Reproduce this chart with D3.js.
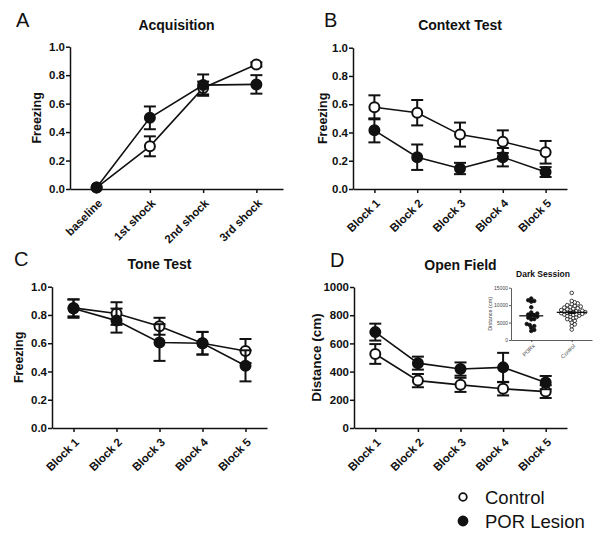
<!DOCTYPE html>
<html><head><meta charset="utf-8">
<script src="https://cdn.jsdelivr.net/npm/d3@7"></script>
<style>body{margin:0;background:#fff}svg{display:block;font-family:"Liberation Sans",Arial,sans-serif}</style>
</head><body><svg id="c" width="604" height="541"></svg>
<script>
// ---------- data ----------
const acqCategories = ["baseline","1st shock","2nd shock","3rd shock"];
const blockCategories = ["Block 1","Block 2","Block 3","Block 4","Block 5"];
const freezeTicks = [0,0.2,0.4,0.6,0.8,1.0];
const distTicks = [0,200,400,600,800,1000];

const acqControl = [0.01,0.30,0.71,0.875];
const acqControlErr = [0,0.07,0.045,0.015];
const acqLesion = [0.01,0.50,0.73,0.735];
const acqLesionErr = [0,0.08,0.075,0.065];

const ctxControl = [0.578,0.54,0.385,0.335,0.26];
const ctxControlErr = [0.085,0.09,0.085,0.08,0.08];
const ctxLesion = [0.415,0.225,0.145,0.225,0.12];
const ctxLesionErr = [0.085,0.09,0.04,0.065,0.035];

const toneControl = [0.85,0.81,0.72,0.60,0.545];
const toneControlErr = [0.06,0.08,0.06,0.08,0.085];
const toneLesion = [0.845,0.76,0.605,0.60,0.44];
const toneLesionErr = [0.065,0.085,0.13,0.08,0.11];

const ofControl = [525,336,306,278,258];
const ofControlErr = [70,47,50,47,45];
const ofLesion = [680,460,418,430,322];
const ofLesionErr = [60,46,47,103,47];

const insetCategories = ["PORx","Control"];
const insetTicks = [0,5000,10000,15000];
const darkPORx = [11900,11400,11200,11000,9400,7900,7600,7300,7100,7000,6700,6400,6000,5900,4600,4300,4000,3500,2900,2600];
const darkControl = [13500,11200,10800,10500,10300,10000,9800,9600,9500,9300,9100,9000,8800,8600,8500,8400,8300,8200,8100,8000,7900,7800,7700,7600,7500,7400,7300,7200,7000,6900,6700,6500,6300,6000,5800,5500,5000,4500,4000,3000];

// ---------- drawing ----------
const svg = d3.select("#c");
const INK = "#111";

function panel(o){
  const g = svg.append("g");
  const x = d3.scalePoint().domain(o.cats).range([o.x0,o.x1]).padding(0.5);
  const y = d3.scaleLinear().domain([o.ticks[0],o.ticks[o.ticks.length-1]]).range([o.y0,o.y1]);
  const ya = g.append("g").attr("transform",`translate(${o.x0},0)`)
    .call(d3.axisLeft(y).tickValues(o.ticks).tickSize(4).tickSizeOuter(0).tickFormat(o.fmt));
  ya.select(".domain").attr("stroke",INK).attr("stroke-width",1.5);
  ya.selectAll(".tick line").attr("stroke",INK).attr("stroke-width",1.5);
  ya.selectAll("text").attr("font-size",11.5).attr("font-weight","bold").attr("fill",INK).attr("x",-5);
  const xa = g.append("g").attr("transform",`translate(0,${o.y0})`)
    .call(d3.axisBottom(x).tickSize(4).tickSizeOuter(0));
  xa.select(".domain").attr("stroke",INK).attr("stroke-width",1.5);
  xa.selectAll(".tick line").attr("stroke",INK).attr("stroke-width",1.5);
  xa.selectAll("text").attr("font-size",11.5).attr("font-weight","bold").attr("fill",INK)
    .attr("text-anchor","end").attr("y",0).attr("dy","0.35em")
    .attr("transform","translate(3,12) rotate(-45)");
  g.append("text").attr("x",(o.x0+o.x1)/2).attr("y",o.titleY).attr("text-anchor","middle")
    .attr("font-size",14).attr("font-weight","bold").attr("fill",INK).text(o.title);
  g.append("text").attr("x",o.letterX).attr("y",o.titleY-3).attr("font-size",20).attr("fill",INK).text(o.letter);
  g.append("text").attr("transform",`translate(${o.ylabX},${(o.y0+o.y1)/2}) rotate(-90)`)
    .attr("text-anchor","middle").attr("font-size",o.ylabSize).attr("font-weight","bold").attr("fill",INK).text(o.ylab);
  const series = [
    {v:o.control, e:o.controlErr, fill:"#fff"},
    {v:o.lesion, e:o.lesionErr, fill:INK}
  ];
  const line = d3.line().x((d,i)=>x(o.cats[i])).y(d=>y(d));
  series.forEach(s=>{
    g.append("path").attr("d",line(s.v)).attr("fill","none").attr("stroke",INK).attr("stroke-width",1.6);
  });
  series.forEach(s=>{
    const eg = g.append("g");
    s.v.forEach((v,i)=>{
      if(!s.e[i]) return;
      const cx = x(o.cats[i]);
      const t = y(v+s.e[i]), b = y(v-s.e[i]);
      eg.append("line").attr("x1",cx).attr("x2",cx).attr("y1",t).attr("y2",b).attr("stroke",INK).attr("stroke-width",2);
      [t,b].forEach(yy=>eg.append("line").attr("x1",cx-6).attr("x2",cx+6).attr("y1",yy).attr("y2",yy).attr("stroke",INK).attr("stroke-width",2));
    });
    g.selectAll(null).data(s.v).enter().append("circle")
      .attr("cx",(d,i)=>x(o.cats[i])).attr("cy",d=>y(d)).attr("r",5)
      .attr("fill",s.fill).attr("stroke",INK).attr("stroke-width",2);
  });
}

panel({cats:acqCategories,ticks:freezeTicks,fmt:d3.format(".1f"),x0:70,x1:283,y0:189,y1:46.7,
  title:"Acquisition",titleY:30,letter:"A",letterX:16,ylab:"Freezing",ylabX:41,ylabSize:12.5,
  control:acqControl,controlErr:acqControlErr,lesion:acqLesion,lesionErr:acqLesionErr});
panel({cats:blockCategories,ticks:freezeTicks,fmt:d3.format(".1f"),x0:353,x1:567,y0:189,y1:47.7,
  title:"Context Test",titleY:30,letter:"B",letterX:324,ylab:"Freezing",ylabX:327,ylabSize:12.5,
  control:ctxControl,controlErr:ctxControlErr,lesion:ctxLesion,lesionErr:ctxLesionErr});
panel({cats:blockCategories,ticks:freezeTicks,fmt:d3.format(".1f"),x0:52,x1:267,y0:428,y1:286.7,
  title:"Tone Test",titleY:269,letter:"C",letterX:14,ylab:"Freezing",ylabX:23,ylabSize:12.5,
  control:toneControl,controlErr:toneControlErr,lesion:toneLesion,lesionErr:toneLesionErr});
panel({cats:blockCategories,ticks:distTicks,fmt:d3.format("d"),x0:354,x1:567,y0:428,y1:287,
  title:"Open Field",titleY:270,letter:"D",letterX:330,ylab:"Distance (cm)",ylabX:321,ylabSize:13.5,
  control:ofControl,controlErr:ofControlErr,lesion:ofLesion,lesionErr:ofLesionErr});

// ---------- inset ----------
(function(){
  const g = svg.append("g");
  const x0=511,x1=592,y0=340,y1=287.7;
  const x = d3.scalePoint().domain(insetCategories).range([x0,x1]).padding(0.5);
  const y = d3.scaleLinear().domain([0,15000]).range([y0,y1]);
  const ya = g.append("g").attr("transform",`translate(${x0},0)`)
    .call(d3.axisLeft(y).tickValues(insetTicks).tickSize(2).tickSizeOuter(0).tickFormat(d3.format("d")));
  ya.select(".domain").attr("stroke","#333").attr("stroke-width",0.8);
  ya.selectAll(".tick line").attr("stroke","#333").attr("stroke-width",0.8);
  ya.selectAll("text").attr("font-size",5).attr("fill","#444").attr("x",-3);
  const xa = g.append("g").attr("transform",`translate(0,${y0})`)
    .call(d3.axisBottom(x).tickSize(2).tickSizeOuter(0));
  xa.select(".domain").attr("stroke","#333").attr("stroke-width",0.8);
  xa.selectAll(".tick line").attr("stroke","#333").attr("stroke-width",0.8);
  xa.selectAll("text").attr("font-size",5.5).attr("fill","#444").attr("text-anchor","end")
    .attr("y",0).attr("dy","0.35em").attr("transform","translate(2,5) rotate(-45)");
  g.append("text").attr("x",543).attr("y",277).attr("text-anchor","middle").attr("font-size",8.5)
    .attr("font-weight","bold").attr("fill",INK).text("Dark Session");
  g.append("text").attr("transform",`translate(492,${(y0+y1)/2}) rotate(-90)`).attr("text-anchor","middle")
    .attr("font-size",5.5).attr("fill","#444").text("Distance (cm)");
  const groups = [{c:"PORx",v:darkPORx,fill:INK,hw:12},{c:"Control",v:darkControl,fill:"#fff",hw:15}];
  const r = 1.8;
  groups.forEach(gr=>{
    const cx = x(gr.c);
    const placed = [];
    const sorted = gr.v.slice().sort((a,b)=>a-b);
    sorted.forEach(v=>{
      const py = y(v);
      let off = 0;
      for(let k=0;k<40;k++){
        const cand = k===0?0:(k%2?1:-1)*Math.ceil(k/2)*1.5;
        const ok = placed.every(p=>Math.hypot(p.dx-cand,p.py-py) >= 2*r-0.7);
        if(ok){off=cand;break;}
      }
      placed.push({dx:off,py:py});
    });
    const m = d3.mean(gr.v), sem = d3.deviation(gr.v)/Math.sqrt(gr.v.length);
    g.selectAll(null).data(placed).enter().append("circle")
      .attr("cx",d=>cx+d.dx).attr("cy",d=>d.py).attr("r",r)
      .attr("fill",gr.fill).attr("stroke",INK).attr("stroke-width",0.8);
    g.append("line").attr("x1",cx-gr.hw).attr("x2",cx+gr.hw).attr("y1",y(m)).attr("y2",y(m)).attr("stroke",INK).attr("stroke-width",1.3);
    g.append("line").attr("x1",cx).attr("x2",cx).attr("y1",y(m+sem)).attr("y2",y(m-sem)).attr("stroke",INK).attr("stroke-width",1);
    [m+sem,m-sem].forEach(v=>g.append("line").attr("x1",cx-4).attr("x2",cx+4).attr("y1",y(v)).attr("y2",y(v)).attr("stroke",INK).attr("stroke-width",1));
  });
})();

// ---------- legend ----------
const legendItems = ["Control","POR Lesion"];
const lg = svg.append("g");
legendItems.forEach((t,i)=>{
  const yy = 497 + i*24;
  lg.append("circle").attr("cx",463).attr("cy",yy).attr("r",i?4.5:3.8).attr("fill",i?INK:"#fff").attr("stroke",INK).attr("stroke-width",1.8);
  lg.append("text").attr("x",485).attr("y",yy).attr("dy","0.36em").attr("font-size",18.5).attr("fill",INK).text(t);
});
</script></body></html>
